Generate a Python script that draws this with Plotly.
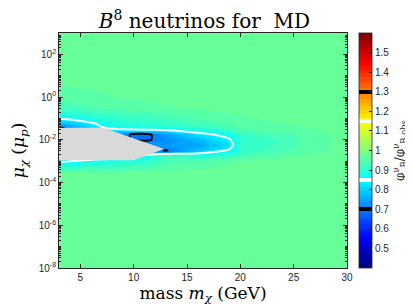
import plotly.graph_objects as go
import numpy as np

# ---- data ----
mass_grid = [3, 4, 7, 9, 11, 13, 16, 19, 20, 23, 26, 30]          # GeV
mu_grid = [1e-8, 1e-4, 3.16e-4, 1e-3, 1.78e-3, 3.16e-3, 5.62e-3, 1e-2,
           1.78e-2, 3.16e-2, 5.62e-2, 1e-1, 3.16e-1, 1.0, 10.0, 1000.0]  # mu_p

# flux ratio, one list per mass column (ascending mu)
ratio_m3  = [0.97, 0.97, 0.963, 0.84, 0.66, 0.64, 0.64, 0.64, 0.64, 0.66, 0.76, 0.855, 0.93, 0.95, 0.97, 0.97]
ratio_m4  = [0.97, 0.97, 0.963, 0.85, 0.70, 0.66, 0.66, 0.66, 0.68, 0.72, 0.78, 0.865, 0.935, 0.955, 0.97, 0.97]
ratio_m7  = [0.97, 0.97, 0.962, 0.88, 0.80, 0.72, 0.71, 0.71, 0.74, 0.84, 0.865, 0.90, 0.945, 0.96, 0.97, 0.97]
ratio_m9  = [0.97, 0.97, 0.962, 0.89, 0.80, 0.72, 0.72, 0.705, 0.71, 0.853, 0.90, 0.91, 0.95, 0.965, 0.97, 0.97]
ratio_m11 = [0.97, 0.97, 0.965, 0.90, 0.87, 0.75, 0.75, 0.69, 0.68, 0.87, 0.90, 0.92, 0.955, 0.965, 0.97, 0.97]
ratio_m13 = [0.97, 0.97, 0.965, 0.935, 0.93, 0.695, 0.74, 0.72, 0.74, 0.87, 0.91, 0.93, 0.96, 0.97, 0.97, 0.97]
ratio_m16 = [0.97, 0.97, 0.968, 0.95, 0.90, 0.79, 0.75, 0.77, 0.83, 0.89, 0.93, 0.945, 0.965, 0.97, 0.97, 0.97]
ratio_m19 = [0.97, 0.97, 0.97, 0.96, 0.92, 0.86, 0.82, 0.845, 0.87, 0.93, 0.945, 0.955, 0.97, 0.97, 0.97, 0.97]
ratio_m20 = [0.97, 0.97, 0.97, 0.965, 0.94, 0.905, 0.92, 0.90, 0.92, 0.945, 0.955, 0.96, 0.97, 0.97, 0.97, 0.97]
ratio_m23 = [0.97, 0.97, 0.97, 0.97, 0.955, 0.935, 0.925, 0.92, 0.935, 0.955, 0.96, 0.965, 0.97, 0.97, 0.97, 0.97]
ratio_m26 = [0.97, 0.97, 0.97, 0.97, 0.965, 0.955, 0.95, 0.948, 0.952, 0.96, 0.965, 0.97, 0.97, 0.97, 0.97, 0.97]
ratio_m30 = [0.97] * 16

# excluded (no-data) region boundary
excl_mass = [3, 7.15, 12.85, 9.95, 3]
excl_mu = [3.63e-2, 3.63e-2, 3.72e-3, 1.12e-3, 1.12e-3]

contour_levels = [0.7, 0.85, 1.15, 1.3]
contour_colors = ['black', 'white', 'white', 'black']

cb_ticks = [0.5, 0.6, 0.7, 0.8, 0.9, 1.0, 1.1, 1.2, 1.3, 1.4, 1.5]
cb_ticktext = ['0.5', '0.6', '0.7', '0.8', '0.9', '1', '1.1', '1.2', '1.3', '1.4', '1.5']
y_ticks = [1e-8, 1e-6, 1e-4, 1e-2, 1e0, 1e2]
y_ticktext = ['10<sup>-8</sup>', '10<sup>-6</sup>', '10<sup>-4</sup>',
              '10<sup>-2</sup>', '10<sup>0</sup>', '10<sup>2</sup>']
x_ticks = [5, 10, 15, 20, 25, 30]

ZMIN, ZMAX = 0.4, 1.6

z = np.array([ratio_m3, ratio_m4, ratio_m7, ratio_m9, ratio_m11, ratio_m13,
              ratio_m16, ratio_m19, ratio_m20, ratio_m23, ratio_m26, ratio_m30]).T


def jet(t):
    r = min(max(1.5 - abs(4 * t - 3), 0), 1)
    g = min(max(1.5 - abs(4 * t - 2), 0), 1)
    b = min(max(1.5 - abs(4 * t - 1), 0), 1)
    return 'rgb(%d,%d,%d)' % (round(255 * r), round(255 * g), round(255 * b))


N = 64


def stepped(bands=()):
    edges = set(k / N for k in range(N + 1))
    for lo, hi, _ in bands:
        edges.update([lo, hi])
    edges = sorted(edges)
    scale = []
    for a, b in zip(edges[:-1], edges[1:]):
        mid = 0.5 * (a + b)
        col = None
        for lo, hi, c in bands:
            if lo <= mid <= hi:
                col = c
        if col is None:
            k = min(int(mid * N), N - 1)
            col = jet(k / (N - 1))
        scale.append([a, col])
        scale.append([b, col])
    scale[0][0] = 0.0
    scale[-1][0] = 1.0
    return scale


hw = 0.009
bands = [((lv - hw - ZMIN) / (ZMAX - ZMIN), (lv + hw - ZMIN) / (ZMAX - ZMIN), c)
         for lv, c in zip(contour_levels, contour_colors)]

fig = go.Figure()
fig.add_trace(go.Heatmap(x=mass_grid, y=mu_grid, z=z, colorscale=stepped(),
                         zmin=ZMIN, zmax=ZMAX, zsmooth='best', showscale=False,
                         hoverinfo='skip'))
for lv, c in zip(contour_levels, contour_colors):
    fig.add_trace(go.Contour(x=mass_grid, y=mu_grid, z=z, autocontour=False,
                             contours=dict(start=lv, end=lv, size=0.1, coloring='none'),
                             line=dict(color=c, width=2, smoothing=0.6),
                             showscale=False, hoverinfo='skip'))
fig.add_trace(go.Scatter(x=excl_mass, y=excl_mu, fill='toself',
                         fillcolor='rgb(217,217,217)', mode='lines',
                         line=dict(width=0, color='rgb(217,217,217)'),
                         hoverinfo='skip', showlegend=False))
# colour scale legend
fig.add_trace(go.Scatter(x=[None], y=[None], mode='markers', showlegend=False,
                         hoverinfo='skip',
                         marker=dict(color=[ZMIN], colorscale=stepped(bands),
                                     cmin=ZMIN, cmax=ZMAX, showscale=True,
                                     colorbar=dict(
                                         x=1.042, xanchor='left', xpad=0,
                                         y=0.5, yanchor='middle', ypad=0,
                                         len=1, thickness=13,
                                         outlinewidth=0.8, outlinecolor='#262626',
                                         tickmode='array', tickvals=cb_ticks,
                                         ticktext=cb_ticktext, ticks='inside',
                                         ticklen=3, tickcolor='#262626',
                                         tickfont=dict(family='Liberation Sans', size=10, color='#262626'),
                                         title=dict(text='φ<sup>ν</sup><sub>B</sub>/φ<sup>ν</sup><sub>B,obs</sub>',
                                                    side='right',
                                                    font=dict(family='DejaVu Serif', size=12, color='#262626'))))))

minor_y = [k * 10.0 ** d for d in range(-8, 3) for k in range(1, 10) if 10.0 ** d * k <= 1000]

axis_common = dict(showline=True, linecolor='#262626', linewidth=0.8, mirror='allticks',
                   ticks='inside', ticklen=4, tickcolor='#262626', showgrid=False,
                   zeroline=False, automargin=False,
                   tickfont=dict(family='Liberation Sans', size=10, color='#262626'))

fig.update_layout(
    width=413, height=305,
    margin=dict(l=51, r=63, t=25, b=45),
    paper_bgcolor='white', plot_bgcolor='white',
    showlegend=False,
    title=dict(text='<i>B</i><sup>8</sup> neutrinos for \u00a0MD', x=0.505, xref='paper',
               y=1 - 13 / 305, yref='container', yanchor='middle', xanchor='center',
               font=dict(family='DejaVu Serif', size=20, color='black')),
    xaxis=dict(range=[3, 30], tickmode='array', tickvals=x_ticks,
               title=dict(text='mass <i>m</i><sub><i>χ</i></sub> (GeV)', standoff=0,
                          font=dict(family='DejaVu Serif', size=17, color='black')),
               **axis_common),
    yaxis=dict(type='log', range=[-8, 3], tickmode='array', tickvals=y_ticks,
               ticktext=y_ticktext,
               minor=dict(tickmode='array', tickvals=minor_y, ticks='inside', ticklen=2,
                          tickcolor='#262626'),
               title=dict(text='<i>μ</i><sub><i>χ</i></sub> (<i>μ</i><sub><i>p</i></sub>)', standoff=9,
                          font=dict(family='DejaVu Serif', size=17, color='black')),
               **axis_common),
)

fig.write_html('out.html')
